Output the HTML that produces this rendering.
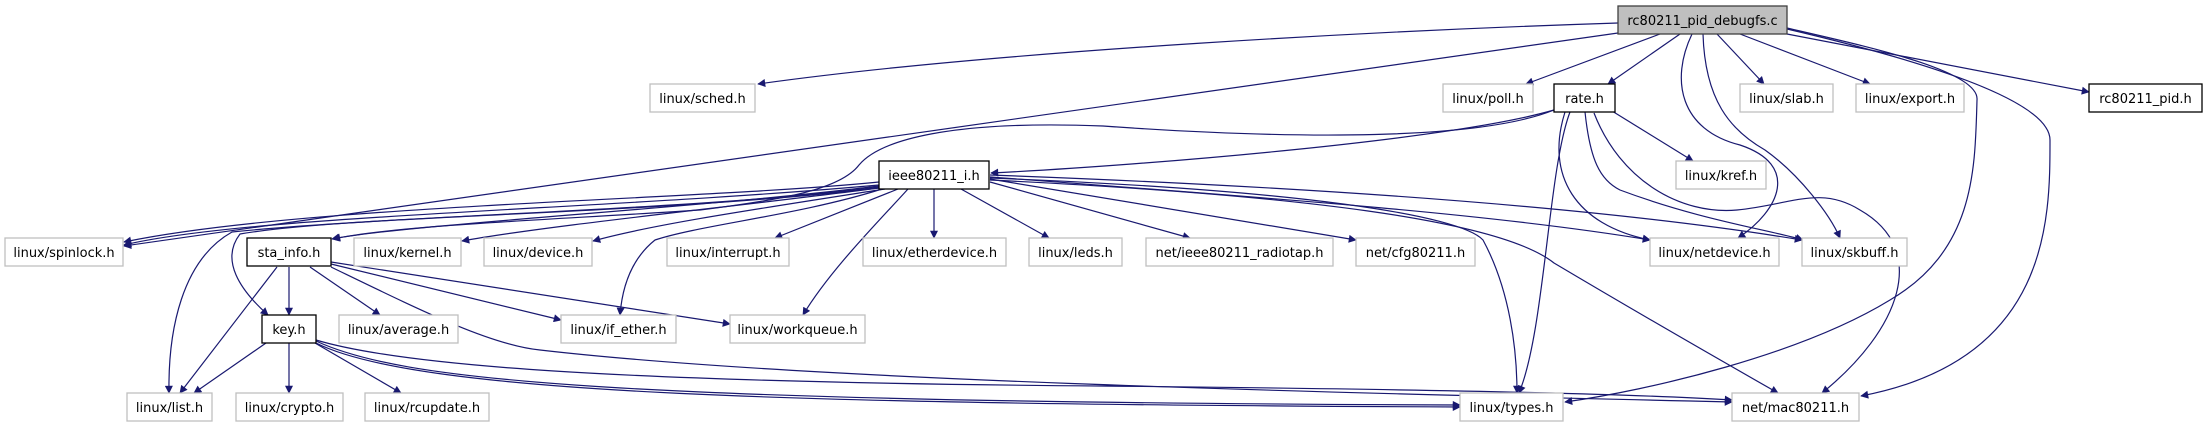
<!DOCTYPE html>
<html><head><meta charset="utf-8"><style>
html,body{margin:0;padding:0;background:#fff;}
svg{display:block;}
text{font-family:"DejaVu Sans","Liberation Sans",sans-serif;font-size:13px;fill:#000;}
.g{fill:#fff;stroke:#bfbfbf;stroke-width:1.3;}
.b{fill:#fff;stroke:#000;stroke-width:1.3;}
.r{fill:#bfbfbf;stroke:#404040;stroke-width:1.3;}
path.e{fill:none;stroke:#191970;stroke-width:1.2;marker-end:url(#a);}
</style></head><body>
<svg width="2207" height="427" viewBox="0 0 2207 427" xmlns="http://www.w3.org/2000/svg">
<defs><marker id="a" viewBox="0 0 10 10" refX="9" refY="5" markerWidth="10" markerHeight="8" markerUnits="userSpaceOnUse" orient="auto"><path d="M0,0L10,5L0,10z" fill="#191970"/></marker></defs>
<g>
<!-- root edges -->
<path class="e" d="M1618,23 C1400,30 1000,50 758,84"/>
<path class="e" d="M1618,33 L124,246"/>
<path class="e" d="M1660,34 L1526,84"/>
<path class="e" d="M1680,34 L1608,84"/>
<path class="e" d="M1717,34 L1764,84"/>
<path class="e" d="M1740,34 L1870,84"/>
<path class="e" d="M1787,34 L2089,92"/>
<path class="e" d="M1692,34 C1670,80 1680,130 1740,145 C1800,165 1780,210 1738,238"/>
<path class="e" d="M1703,34 C1705,100 1730,130 1765,150 C1800,175 1830,215 1840,238"/>
<path class="e" d="M1787,28 C1860,45 1980,70 1977,100 C1975,170 1975,250 1890,300 C1800,355 1650,390 1565,402"/>
<path class="e" d="M1787,29 C1920,60 2050,100 2050,140 C2050,220 2050,360 1861,396"/>
<!-- rate edges -->
<path class="e" d="M1554,110 C1450,140 1150,165 991,173"/>
<path class="e" d="M1554,110 C1480,140 1300,140 1103,126 C950,120 880,140 859,165 C840,190 780,200 700,210 C550,220 400,225 333,239"/>
<path class="e" d="M1612,111 L1693,161"/>
<path class="e" d="M1570,112 C1548,170 1545,330 1519,393"/>
<path class="e" d="M1565,112 C1545,175 1575,225 1650,240"/>
<path class="e" d="M1585,112 C1590,160 1600,180 1620,190 C1700,220 1770,230 1803,240"/>
<path class="e" d="M1594,113 C1620,180 1680,215 1737,210 C1790,205 1820,185 1860,210 C1930,250 1900,330 1822,393"/>
<!-- ieee edges -->
<path class="e" d="M879,182 C700,200 300,205 124,242"/>
<path class="e" d="M879,185 C600,210 250,215 124,245"/>
<path class="e" d="M879,187 C700,210 400,215 232,232 C182,260 168,330 169,393"/>
<path class="e" d="M879,188 C650,215 350,215 240,234 C220,260 240,290 268,315"/>
<path class="e" d="M879,186 C700,208 400,225 332,239"/>
<path class="e" d="M879,188 C750,205 550,225 462,241"/>
<path class="e" d="M885,189 C750,210 650,225 593,241"/>
<path class="e" d="M898,189 L775,238"/>
<path class="e" d="M934,189 L934,238"/>
<path class="e" d="M961,189 L1049,238"/>
<path class="e" d="M990,182 L1190,238"/>
<path class="e" d="M990,179 L1356,240"/>
<path class="e" d="M990,177 C1300,200 1500,215 1650,240"/>
<path class="e" d="M990,175 C1400,190 1650,215 1802,240"/>
<path class="e" d="M882,189 C800,215 700,225 655,240 C630,260 622,290 620,315"/>
<path class="e" d="M908,189 C880,220 830,270 803,315"/>
<path class="e" d="M990,178 C1300,190 1460,215 1483,240 C1510,290 1517,350 1517,393"/>
<path class="e" d="M990,180 C1300,195 1500,220 1554,263 C1650,320 1720,360 1778,393"/>
<!-- sta edges -->
<path class="e" d="M289,267 L289,315"/>
<path class="e" d="M277,267 L180,393"/>
<path class="e" d="M310,267 L380,315"/>
<path class="e" d="M331,264 L561,320"/>
<path class="e" d="M331,262 L730,324"/>
<path class="e" d="M331,267 C420,310 490,345 540,350 C800,380 1300,392 1732,402"/>
<!-- key edges -->
<path class="e" d="M266,343 L194,393"/>
<path class="e" d="M289,343 L289,393"/>
<path class="e" d="M315,343 L401,393"/>
<path class="e" d="M316,341 C400,380 600,402 1460,405"/>
<path class="e" d="M316,343 C420,395 800,404 1460,407"/>
<path class="e" d="M316,340 C400,365 600,382 1100,386 C1500,390 1650,395 1732,400"/>
</g>
<g>
<rect class="r" x="1618" y="6" width="169" height="28"/><text x="1702.5" y="25" text-anchor="middle">rc80211_pid_debugfs.c</text>
<rect class="g" x="650" y="84" width="105" height="28"/><text x="702.5" y="103" text-anchor="middle">linux/sched.h</text>
<rect class="g" x="1443" y="84" width="90" height="28"/><text x="1488" y="103" text-anchor="middle">linux/poll.h</text>
<rect class="b" x="1554" y="84" width="61" height="28"/><text x="1584.5" y="103" text-anchor="middle">rate.h</text>
<rect class="g" x="1740" y="84" width="93" height="28"/><text x="1786.5" y="103" text-anchor="middle">linux/slab.h</text>
<rect class="g" x="1856" y="84" width="108" height="28"/><text x="1910" y="103" text-anchor="middle">linux/export.h</text>
<rect class="b" x="2089" y="84" width="113" height="28"/><text x="2145.5" y="103" text-anchor="middle">rc80211_pid.h</text>
<rect class="b" x="879" y="161" width="110" height="28"/><text x="934" y="180" text-anchor="middle">ieee80211_i.h</text>
<rect class="g" x="1676" y="161" width="90" height="28"/><text x="1721" y="180" text-anchor="middle">linux/kref.h</text>
<rect class="g" x="5" y="238" width="118" height="28"/><text x="64" y="257" text-anchor="middle">linux/spinlock.h</text>
<rect class="b" x="247" y="238" width="84" height="28"/><text x="289" y="257" text-anchor="middle">sta_info.h</text>
<rect class="g" x="354" y="238" width="107" height="28"/><text x="407.5" y="257" text-anchor="middle">linux/kernel.h</text>
<rect class="g" x="484" y="238" width="108" height="28"/><text x="538" y="257" text-anchor="middle">linux/device.h</text>
<rect class="g" x="667" y="238" width="122" height="28"/><text x="728" y="257" text-anchor="middle">linux/interrupt.h</text>
<rect class="g" x="863" y="238" width="143" height="28"/><text x="934.5" y="257" text-anchor="middle">linux/etherdevice.h</text>
<rect class="g" x="1029" y="238" width="93" height="28"/><text x="1075.5" y="257" text-anchor="middle">linux/leds.h</text>
<rect class="g" x="1146" y="238" width="187" height="28"/><text x="1239.5" y="257" text-anchor="middle">net/ieee80211_radiotap.h</text>
<rect class="g" x="1356" y="238" width="119" height="28"/><text x="1415.5" y="257" text-anchor="middle">net/cfg80211.h</text>
<rect class="g" x="1650" y="238" width="129" height="28"/><text x="1714.5" y="257" text-anchor="middle">linux/netdevice.h</text>
<rect class="g" x="1802" y="238" width="105" height="28"/><text x="1854.5" y="257" text-anchor="middle">linux/skbuff.h</text>
<rect class="b" x="262" y="315" width="54" height="28"/><text x="289" y="334" text-anchor="middle">key.h</text>
<rect class="g" x="339" y="315" width="119" height="28"/><text x="398.5" y="334" text-anchor="middle">linux/average.h</text>
<rect class="g" x="561" y="315" width="115" height="28"/><text x="618.5" y="334" text-anchor="middle">linux/if_ether.h</text>
<rect class="g" x="730" y="315" width="135" height="28"/><text x="797.5" y="334" text-anchor="middle">linux/workqueue.h</text>
<rect class="g" x="127" y="393" width="85" height="28"/><text x="169.5" y="412" text-anchor="middle">linux/list.h</text>
<rect class="g" x="236" y="393" width="107" height="28"/><text x="289.5" y="412" text-anchor="middle">linux/crypto.h</text>
<rect class="g" x="365" y="393" width="124" height="28"/><text x="427" y="412" text-anchor="middle">linux/rcupdate.h</text>
<rect class="g" x="1460" y="393" width="103" height="28"/><text x="1511.5" y="412" text-anchor="middle">linux/types.h</text>
<rect class="g" x="1732" y="393" width="127" height="28"/><text x="1795.5" y="412" text-anchor="middle">net/mac80211.h</text>
</g>
</svg>
</body></html>
